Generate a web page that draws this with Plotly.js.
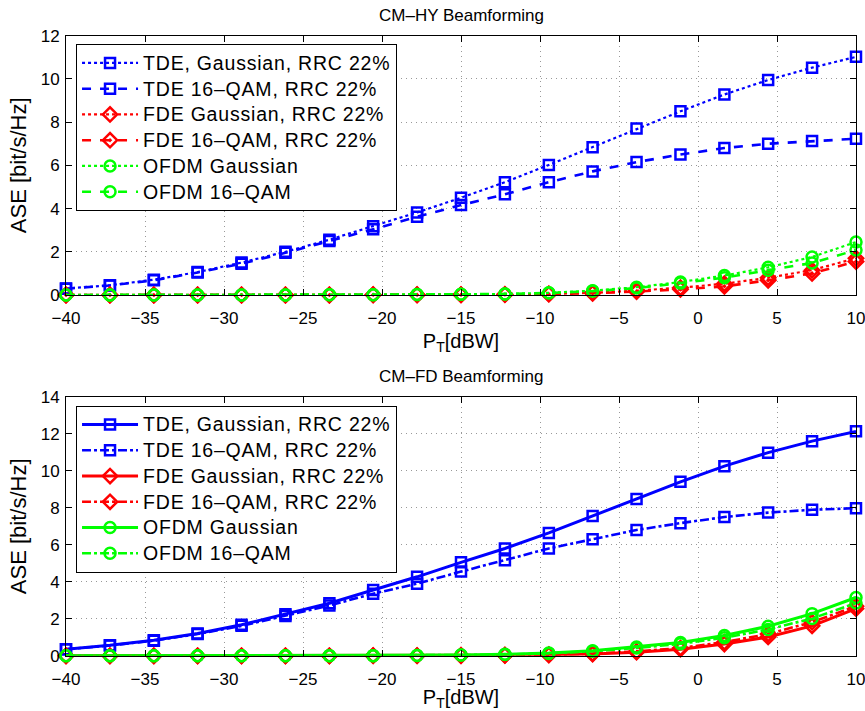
<!DOCTYPE html>
<html>
<head>
<meta charset="utf-8">
<script src="https://cdn.plot.ly/plotly-3.0.1.min.js"></script>
<style>
html,body{margin:0;padding:0;background:#fff;}
#chart{width:865px;height:711px;}
.legendtext, .legend2text{font-size:19.5px !important; letter-spacing:0.8px;}
</style>
</head>
<body>
<div id="chart"></div>
<script>
// Transmit power P_T [dBW]
var ptDbw = [-40, -37.22, -34.44, -31.67, -28.89, -26.11, -23.33, -20.56, -17.78, -15,
             -12.22, -9.44, -6.67, -3.89, -1.11, 1.67, 4.44, 7.22, 10];

// CM-HY Beamforming (top)
var hyTdeGauss  = [0.30, 0.45, 0.71, 1.06, 1.50, 2.00, 2.56, 3.18, 3.82, 4.50,
                   5.22, 6.02, 6.84, 7.70, 8.50, 9.28, 9.95, 10.52, 11.02];
var hyTde16qam  = [0.29, 0.44, 0.68, 1.04, 1.45, 1.95, 2.50, 3.04, 3.62, 4.16,
                   4.66, 5.22, 5.72, 6.15, 6.50, 6.80, 7.00, 7.13, 7.23];
var hyFdeGauss  = [0.00, 0.00, 0.00, 0.00, 0.00, 0.00, 0.00, 0.01, 0.01, 0.02,
                   0.03, 0.05, 0.10, 0.20, 0.34, 0.52, 0.80, 1.15, 1.70];
var hyFde16qam  = [0.00, 0.00, 0.00, 0.00, 0.00, 0.00, 0.00, 0.01, 0.01, 0.01,
                   0.02, 0.04, 0.08, 0.16, 0.26, 0.40, 0.68, 1.00, 1.55];
var hyOfdmGauss = [0.00, 0.00, 0.00, 0.00, 0.00, 0.00, 0.01, 0.01, 0.02, 0.03,
                   0.05, 0.10, 0.20, 0.36, 0.60, 0.90, 1.28, 1.76, 2.45];
var hyOfdm16qam = [0.00, 0.00, 0.00, 0.00, 0.00, 0.00, 0.01, 0.01, 0.02, 0.03,
                   0.05, 0.09, 0.18, 0.32, 0.55, 0.80, 1.15, 1.48, 2.08];

// CM-FD Beamforming (bottom)
var fdTdeGauss  = [0.36, 0.57, 0.84, 1.21, 1.68, 2.24, 2.84, 3.56, 4.27, 5.05,
                   5.80, 6.64, 7.56, 8.48, 9.40, 10.25, 10.98, 11.60, 12.13];
var fdTde16qam  = [0.35, 0.56, 0.82, 1.18, 1.62, 2.15, 2.72, 3.36, 3.90, 4.55,
                   5.17, 5.80, 6.30, 6.80, 7.17, 7.50, 7.74, 7.89, 7.98];
var fdFdeGauss  = [0.00, 0.00, 0.00, 0.00, 0.00, 0.00, 0.00, 0.01, 0.01, 0.02,
                   0.03, 0.05, 0.10, 0.20, 0.36, 0.64, 1.02, 1.62, 2.55];
var fdFde16qam  = [0.00, 0.00, 0.00, 0.00, 0.00, 0.00, 0.00, 0.01, 0.01, 0.02,
                   0.03, 0.06, 0.12, 0.24, 0.42, 0.74, 1.18, 1.82, 2.68];
var fdOfdmGauss = [0.00, 0.00, 0.00, 0.00, 0.00, 0.00, 0.01, 0.01, 0.02, 0.04,
                   0.08, 0.15, 0.28, 0.48, 0.72, 1.10, 1.60, 2.28, 3.15];
var fdOfdm16qam = [0.00, 0.00, 0.00, 0.00, 0.00, 0.00, 0.01, 0.01, 0.02, 0.04,
                   0.07, 0.13, 0.25, 0.42, 0.65, 0.98, 1.42, 2.02, 2.85];

var names = ['TDE, Gaussian, RRC 22%', 'TDE 16\u2013QAM, RRC 22%', 'FDE Gaussian, RRC 22%',
             'FDE 16\u2013QAM, RRC 22%', 'OFDM Gaussian', 'OFDM 16\u2013QAM'];
var titles = ['CM\u2013HY Beamforming', 'CM\u2013FD Beamforming'];

var BLUE = '#0000ff', RED = '#ff0000', GREEN = '#00ff00';
var FONT = '"Liberation Sans", Arial, Helvetica, sans-serif';

function tr(y, name, color, dash, symbol, msize, lw, xa, ya, leg) {
  return {
    x: ptDbw, y: y, name: name, type: 'scatter', mode: 'lines+markers',
    xaxis: xa, yaxis: ya, legend: leg, cliponaxis: false,
    line: {color: color, width: lw, dash: dash},
    marker: {symbol: symbol, size: msize, color: color, line: {color: color, width: 2.5}}
  };
}

var data = [
  tr(hyTdeGauss,  names[0], BLUE,  'dot',  'square-open',      10, 2.2, 'x', 'y', 'legend'),
  tr(hyTde16qam,  names[1], BLUE,  'dash', 'square-open',      10, 2.6, 'x', 'y', 'legend'),
  tr(hyFdeGauss,  names[2], RED,   'dot',  'diamond-open',     11, 2.2, 'x', 'y', 'legend'),
  tr(hyFde16qam,  names[3], RED,   'dash', 'diamond-open-dot', 11, 2.6, 'x', 'y', 'legend'),
  tr(hyOfdmGauss, names[4], GREEN, 'dot',  'circle-open',      11, 2.2, 'x', 'y', 'legend'),
  tr(hyOfdm16qam, names[5], GREEN, 'dash', 'circle-open',      11, 2.6, 'x', 'y', 'legend'),

  tr(fdTdeGauss,  names[0], BLUE,  'solid',   'square-open',  10, 3, 'x2', 'y2', 'legend2'),
  tr(fdTde16qam,  names[1], BLUE,  'dashdot', 'square-open',  10, 2.6, 'x2', 'y2', 'legend2'),
  tr(fdFdeGauss,  names[2], RED,   'solid',   'diamond-open', 11, 3, 'x2', 'y2', 'legend2'),
  tr(fdFde16qam,  names[3], RED,   'dashdot', 'diamond-open', 11, 2.6, 'x2', 'y2', 'legend2'),
  tr(fdOfdmGauss, names[4], GREEN, 'solid',   'circle-open',  11, 3, 'x2', 'y2', 'legend2'),
  tr(fdOfdm16qam, names[5], GREEN, 'dashdot', 'circle-open',  11, 2.6, 'x2', 'y2', 'legend2')
];

function xax(anchor) {
  return {
    anchor: anchor, domain: [0, 1], range: [-40, 10], dtick: 5, tick0: -40,
    showgrid: true, gridcolor: '#999999', griddash: '1px,4px', gridwidth: 1,
    zeroline: false, showline: true, linecolor: '#000', linewidth: 1, mirror: 'ticks',
    ticks: 'inside', ticklen: 6, tickcolor: '#000', ticklabelstandoff: 8,
    ticklabeloverflow: 'allow',
    tickfont: {family: FONT, size: 17, color: '#000'},
    title: {text: 'P<sub>T</sub>[dBW]', font: {family: FONT, size: 20, color: '#000'}, standoff: 6}
  };
}
function yax(anchor, domain, top) {
  return {
    anchor: anchor, domain: domain, range: [0, top], dtick: 2, tick0: 0,
    showgrid: true, gridcolor: '#999999', griddash: '1px,4px', gridwidth: 1,
    zeroline: false, showline: true, linecolor: '#000', linewidth: 1, mirror: 'ticks',
    ticks: 'inside', ticklen: 6, tickcolor: '#000', ticklabelstandoff: 2,
    ticklabeloverflow: 'allow',
    tickfont: {family: FONT, size: 17, color: '#000'},
    title: {text: 'ASE [bit/s/Hz]', font: {family: FONT, size: 22, color: '#000'}, standoff: 7}
  };
}

var legendStyle = function(ytop) {
  return {
    x: 0.0127, y: ytop, xanchor: 'left', yanchor: 'top', xref: 'paper', yref: 'paper',
    bgcolor: '#fff', bordercolor: '#000', borderwidth: 1,
    font: {family: FONT, size: 17.5, color: '#000'},
    itemwidth: 56, tracegroupgap: 0, traceorder: 'normal'
  };
};

var layout = {
  width: 865, height: 711,
  margin: {l: 66, r: 9, t: 0, b: 0},
  paper_bgcolor: '#fff', plot_bgcolor: '#fff',
  font: {family: FONT, color: '#000'},
  xaxis: xax('y'),
  yaxis: yax('x', [0.5851, 0.9498], 12),
  xaxis2: xax('y2'),
  yaxis2: yax('x2', [0.0776, 0.4420], 14),
  legend: legendStyle(0.938),
  legend2: legendStyle(0.4294),
  annotations: [
    {text: titles[0], xref: 'paper', yref: 'paper', x: 0.5, y: 0.9775, xanchor: 'center', yanchor: 'middle',
     showarrow: false, font: {family: FONT, size: 17, color: '#000'}},
    {text: titles[1], xref: 'paper', yref: 'paper', x: 0.5, y: 0.4698, xanchor: 'center', yanchor: 'middle',
     showarrow: false, font: {family: FONT, size: 17, color: '#000'}}
  ]
};

Plotly.newPlot('chart', data, layout, {displayModeBar: false, staticPlot: true});
</script>
</body>
</html>
